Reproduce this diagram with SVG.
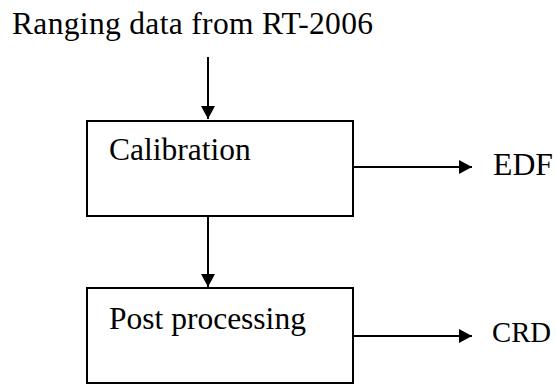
<svg xmlns="http://www.w3.org/2000/svg" width="556" height="385" viewBox="0 0 556 385">
<style>
text{font-family:"Liberation Serif","Times New Roman",serif;font-size:31.5px;fill:#000}
.box{fill:#fff;stroke:#000;stroke-width:2}
.ln{stroke:#000;stroke-width:2;fill:none}
</style>
<defs>
<marker id="ah" markerWidth="14" markerHeight="14" refX="13" refY="7" orient="auto" markerUnits="userSpaceOnUse">
<path d="M0,0 L13,7 L0,14 Z" fill="#000"/>
</marker>
</defs>
<rect width="556" height="385" fill="#fff"/>
<g id="source"><text x="12" y="34" textLength="361" lengthAdjust="spacing">Ranging data from RT-2006</text></g>
<g id="calibration"><rect class="box" x="87" y="121" width="266" height="95"/><text x="109" y="160">Calibration</text></g>
<g id="post"><rect class="box" x="87" y="288" width="266" height="95"/><text x="109" y="329">Post processing</text></g>
<g id="edf"><text x="493" y="175" textLength="60" lengthAdjust="spacingAndGlyphs">EDF</text></g>
<g id="crd"><text x="492" y="342" style="font-size:30px" textLength="59" lengthAdjust="spacingAndGlyphs">CRD</text></g>
<g id="connectors">
<line class="ln" x1="208" y1="57" x2="208" y2="119" marker-end="url(#ah)"/>
<line class="ln" x1="208" y1="217" x2="208" y2="287" marker-end="url(#ah)"/>
<line class="ln" x1="353" y1="167" x2="472" y2="167" marker-end="url(#ah)"/>
<line class="ln" x1="353" y1="336" x2="472" y2="336" marker-end="url(#ah)"/>
</g>
</svg>
